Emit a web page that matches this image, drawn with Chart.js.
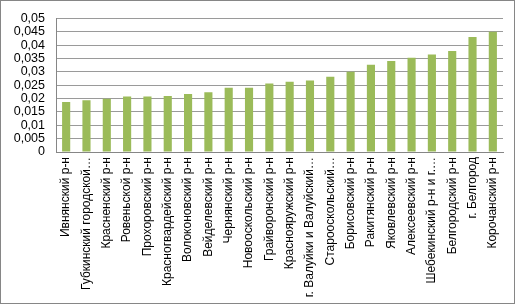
<!DOCTYPE html>
<html>
<head>
<meta charset="utf-8">
<script src="https://cdn.jsdelivr.net/npm/chart.js@4/dist/chart.umd.min.js"></script>
<style>
html,body{margin:0;padding:0;background:#fff;}
#wrap{position:relative;width:515px;height:304px;}
</style>
</head>
<body>
<div id="wrap"><canvas id="c" width="515" height="304"></canvas></div>
<script>
const categories = [
  "Ивнянский р-н",
  "Губкинский городской…",
  "Красненский р-н",
  "Ровеньской р-н",
  "Прохоровский р-н",
  "Красногвардейский р-н",
  "Волоконовский р-н",
  "Вейделевский р-н",
  "Чернянский р-н",
  "Новооскольский р-н",
  "Грайворонский р-н",
  "Краснояружский р-н",
  "г. Валуйки и Валуйский…",
  "Старооскольский…",
  "Борисовский р-н",
  "Ракитянский р-н",
  "Яковлевский р-н",
  "Алексеевский р-н",
  "Шебекинский р-н и г.…",
  "Белгородский р-н",
  "г. Белгород",
  "Корочанский р-н"
];
const values = [
  0.0187, 0.0194, 0.0199, 0.0208, 0.0208, 0.0210, 0.0217, 0.0224, 0.0241, 0.0241,
  0.0257, 0.0263, 0.0268, 0.0282, 0.0301, 0.0327, 0.0341, 0.0353, 0.0365, 0.0378,
  0.0431, 0.0450
];
const yMin = 0, yMax = 0.05, yStep = 0.005;

const borderPlugin = {
  id: 'outerBorder',
  afterDraw(chart) {
    const ctx = chart.ctx;
    ctx.save();
    ctx.strokeStyle = '#868686';
    ctx.lineWidth = 1;
    ctx.strokeRect(0.5, 0.5, chart.width - 1, chart.height - 1);
    ctx.restore();
  }
};

new Chart(document.getElementById('c'), {
  type: 'bar',
  data: {
    labels: categories,
    datasets: [{
      data: values,
      backgroundColor: '#9BBB59',
      borderWidth: 0,
      barPercentage: 0.4,
      categoryPercentage: 1.0
    }]
  },
  options: {
    responsive: false,
    animation: false,
    devicePixelRatio: 1,
    layout: { padding: { left: 0, right: 12, top: 12, bottom: 0 } },
    plugins: { legend: { display: false }, tooltip: { enabled: false } },
    scales: {
      x: {
        grid: { display: false, drawTicks: false },
        border: { display: true, color: '#868686' },
        ticks: {
          autoSkip: false,
          maxRotation: 90,
          minRotation: 90,
          padding: 5,
          color: '#000',
          font: { family: 'Liberation Sans', size: 12 }
        },
        afterFit(s) { s.height = 152; }
      },
      y: {
        min: yMin,
        max: yMax,
        grid: { color: '#9a9a9a', drawTicks: false },
        border: { display: true, color: '#868686' },
        ticks: {
          stepSize: yStep,
          autoSkip: false,
          padding: 11,
          color: '#000',
          font: { family: 'Liberation Sans', size: 12.5 },
          callback: v => String(Number(v.toFixed(3))).replace('.', ',')
        },
        afterFit(s) { s.width = 56; }
      }
    }
  },
  plugins: [borderPlugin]
});
</script>
</body>
</html>
